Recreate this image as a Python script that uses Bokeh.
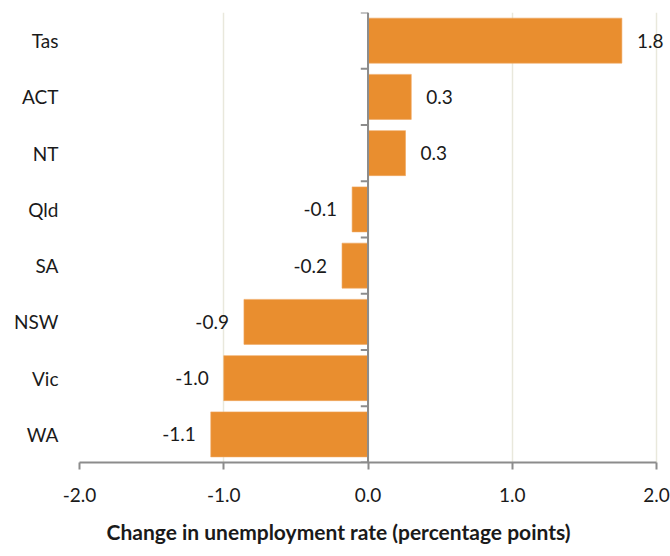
from bokeh.plotting import figure
from bokeh.models import (ColumnDataSource, FactorRange, Range1d, FixedTicker,
                          NumeralTickFormatter, Span, LabelSet, Title)
from bokeh.core.properties import value
from bokeh.embed import file_html
from bokeh.resources import INLINE

# Change in unemployment rate by state/territory (percentage points)
states = ["Tas", "ACT", "NT", "Qld", "SA", "NSW", "Vic", "WA"]
change = [1.76, 0.30, 0.26, -0.11, -0.18, -0.86, -1.00, -1.09]
x_ticks = [-2.0, -1.0, 0.0, 1.0, 2.0]
x_title = "Change in unemployment rate (percentage points)"

FONT = "Lato"
TEXT_COLOR = "#1a1a1a"
BAR_COLOR = "#E98E2F"
AXIS_COLOR = "#8c8c8c"
GRID_COLOR = "#e9e8dc"
W, H = 670, 556
LEFT, TOP, BOTTOM = 79, 12, 92
AXIS_PX = 577                      # pixel length of the -2..2 axis
# let the frame run to the right edge so the labels there are not clipped
x_end = x_ticks[0] + (W - LEFT) * (x_ticks[-1] - x_ticks[0]) / AXIS_PX

labels = [f"{v:.1f}" for v in change]
pos = [i for i, v in enumerate(change) if v >= 0]
neg = [i for i, v in enumerate(change) if v < 0]


def subset(idx):
    return ColumnDataSource(dict(state=[states[i] for i in idx],
                                 change=[change[i] for i in idx],
                                 label=[labels[i] for i in idx]))


src = ColumnDataSource(dict(state=states, change=change, label=labels))

p = figure(width=W, height=H,
           y_range=FactorRange(factors=states[::-1]),
           x_range=Range1d(x_ticks[0], x_end),
           output_backend="svg", toolbar_location=None,
           min_border_left=LEFT, min_border_right=0,
           min_border_top=TOP, min_border_bottom=BOTTOM)
p.outline_line_color = None
p.background_fill_color = "white"

# bars
p.hbar(y="state", left=0, right="change", height=0.8, source=src,
       fill_color=BAR_COLOR, line_color="#f0a860", line_width=0.6)

# value labels
for idx, off, align in ((pos, 15, "left"), (neg, -15, "right")):
    p.add_layout(LabelSet(x="change", y="state", text="label", source=subset(idx),
                          x_offset=off, text_align=align, text_baseline="middle",
                          text_font=value(FONT), text_font_size="19px",
                          text_color=TEXT_COLOR))

# vertical zero axis with category tick marks
p.add_layout(Span(location=0, dimension="height", line_color=AXIS_COLOR, line_width=2))
bounds = list(range(len(states) + 1))
tick_len = 0.05
p.segment(x0=[0] * len(bounds), x1=[-tick_len] * len(bounds), y0=bounds, y1=bounds,
          line_color=AXIS_COLOR, line_width=2)

# grid
p.ygrid.grid_line_color = None
p.xgrid.grid_line_color = GRID_COLOR
p.xgrid.grid_line_width = 1.5
p.xgrid.ticker = FixedTicker(ticks=x_ticks)

# x axis
xa = p.xaxis[0]
xa.ticker = FixedTicker(ticks=x_ticks)
xa.bounds = (x_ticks[0], x_ticks[-1])
xa.formatter = NumeralTickFormatter(format="0.0")
xa.axis_line_color = AXIS_COLOR
xa.axis_line_width = 2
xa.major_tick_line_color = AXIS_COLOR
xa.major_tick_line_width = 2
xa.major_tick_out = 7
xa.major_tick_in = 0
xa.minor_tick_line_color = None
xa.major_label_standoff = 18
xa.major_label_text_font = FONT
xa.major_label_text_font_size = "19px"
xa.major_label_text_color = TEXT_COLOR

# axis title below the x axis, shifted to sit centred on the canvas
p.add_layout(Title(text=x_title, align="left", offset=27,
                   standoff=25, text_font=FONT, text_font_style="bold",
                   text_font_size="21px", text_color=TEXT_COLOR), "below")

# category axis (labels only)
ya = p.yaxis[0]
ya.axis_line_color = None
ya.major_tick_line_color = None
ya.minor_tick_line_color = None
ya.major_label_standoff = 15
ya.major_label_text_font = FONT
ya.major_label_text_font_size = "19px"
ya.major_label_text_color = TEXT_COLOR

open("out.html", "w").write(file_html(p, INLINE))
